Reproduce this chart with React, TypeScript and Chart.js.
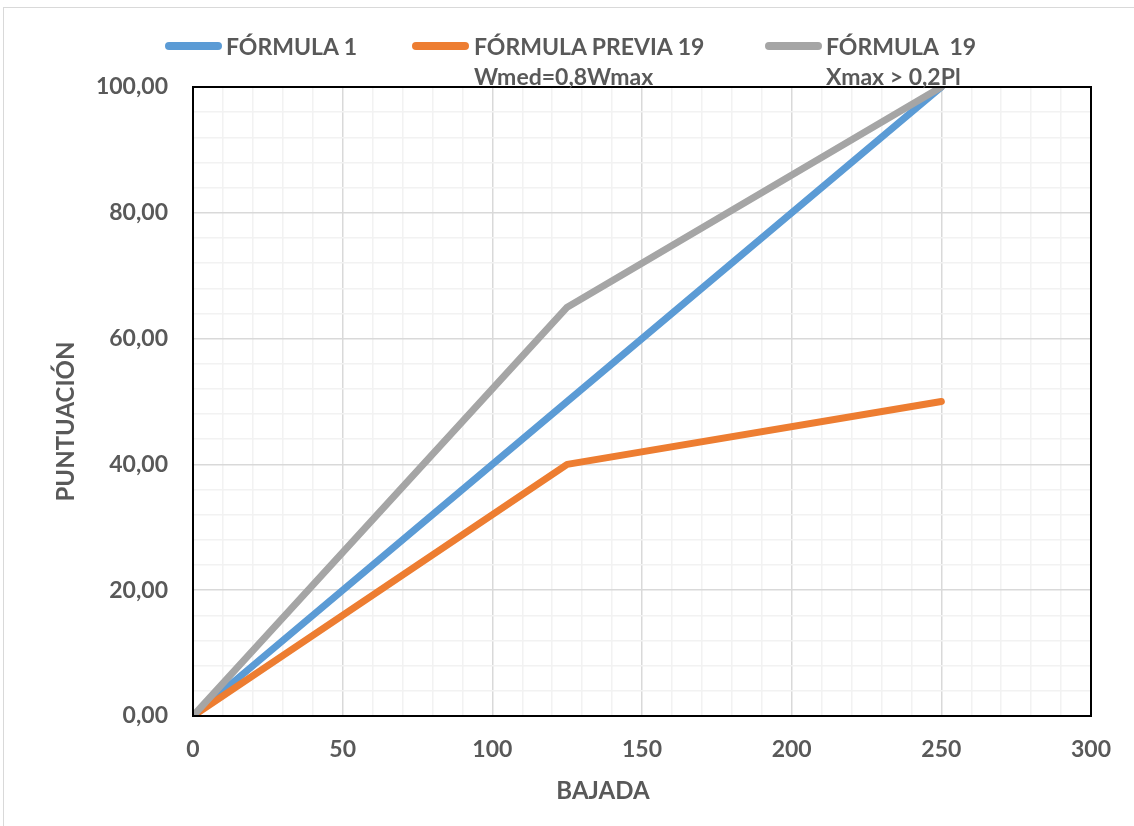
import React, { useEffect, useRef } from 'react';
import { Chart, registerables } from 'chart.js';

Chart.register(...registerables);

// ---- data ----
const bajada = [0, 125, 250];
const formula1 = [0, 50, 100];
const formulaPrevia19 = [0, 40, 50];
const formula19 = [0, 65, 100];

const seriesNames = [
  ['FÓRMULA 1'],
  ['FÓRMULA PREVIA 19', 'Wmed=0,8Wmax'],
  ['FÓRMULA  19', 'Xmax > 0,2Pl'],
];
const seriesColors = ['#5B9BD5', '#ED7D31', '#A5A5A5'];
const xMajorTicks = [0, 50, 100, 150, 200, 250, 300];
const yMajorTicks = [0, 20, 40, 60, 80, 100];
const xTitle = 'BAJADA';
const yTitle = 'PUNTUACIÓN';

const FONT = 'Lato, "Noto Sans", sans-serif';
const TEXT = '#595959';

const frameAndTitles = {
  id: 'frameAndTitles',
  afterDraw(chart: any) {
    const { ctx, chartArea } = chart;
    ctx.save();
    ctx.strokeStyle = '#000';
    ctx.lineWidth = 2;
    ctx.strokeRect(chartArea.left, chartArea.top, chartArea.right - chartArea.left, chartArea.bottom - chartArea.top);
    ctx.fillStyle = TEXT;
    ctx.font = `bold 24px ${FONT}`;
    ctx.textAlign = 'center';
    ctx.textBaseline = 'middle';
    ctx.fillText(xTitle, chartArea.left + 410, chartArea.bottom + 75);
    ctx.translate(chartArea.left - 127, (chartArea.top + chartArea.bottom) / 2 + 20);
    ctx.rotate(-Math.PI / 2);
    ctx.fillText(yTitle, 0, 0);
    ctx.restore();
  },
};

export default function App() {
  const ref = useRef<HTMLCanvasElement>(null);

  useEffect(() => {
    if (!ref.current) return;
    const series = [formula1, formulaPrevia19, formula19];
    const chart = new Chart(ref.current, {
      type: 'line',
      data: {
        datasets: series.map((s, i) => ({
          label: seriesNames[i].join(' '),
          data: bajada.map((x, j) => ({ x, y: s[j] })),
          borderColor: seriesColors[i],
          backgroundColor: seriesColors[i],
          borderWidth: 7,
          borderCapStyle: 'round',
          borderJoinStyle: 'round',
          pointRadius: 0,
          tension: 0,
          order: 3 - i,
        })),
      },
      options: {
        responsive: false,
        animation: false,
        layout: { padding: { top: 87, right: 43, left: 0, bottom: 0 } },
        plugins: { legend: { display: false }, tooltip: { enabled: false } },
        scales: {
          x: {
            type: 'linear',
            min: 0,
            max: 300,
            afterFit: (s: any) => { s.height = 110; },
            border: { display: false },
            grid: {
              drawTicks: false,
              lineWidth: 1.5,
              color: (c: any) => (xMajorTicks.includes(c.tick?.value) ? '#d9d9d9' : '#f2f2f2'),
            },
            ticks: {
              stepSize: 10,
              autoSkip: false,
              maxRotation: 0,
              padding: 20,
              color: TEXT,
              font: { family: FONT, size: 23, weight: 'bold' },
              callback: (v: any) => (xMajorTicks.includes(v) ? String(v) : ''),
            },
          },
          y: {
            type: 'linear',
            min: 0,
            max: 100,
            afterFit: (s: any) => { s.width = 193; },
            border: { display: false },
            grid: {
              drawTicks: false,
              lineWidth: 1.5,
              color: (c: any) => (yMajorTicks.includes(c.tick?.value) ? '#d9d9d9' : '#f2f2f2'),
            },
            ticks: {
              stepSize: 4,
              autoSkip: false,
              padding: 25,
              color: TEXT,
              font: { family: FONT, size: 23, weight: 'bold' },
              callback: (v: any) => (yMajorTicks.includes(v) ? Number(v).toFixed(2).replace('.', ',') : ''),
            },
          },
        },
      },
      plugins: [frameAndTitles],
    } as any);
    return () => chart.destroy();
  }, []);

  const legendPos = [
    { sw: 165, tx: 226 },
    { sw: 412, tx: 474 },
    { sw: 765, tx: 826 },
  ];

  return (
    <div style={{ position: 'fixed', left: 0, top: 0, width: 1134, height: 826, overflow: 'hidden', background: '#fff' }}>
      <div style={{ position: 'absolute', left: 3, top: 7, width: 1200, height: 900, border: '1px solid #d9d9d9' }} />
      <canvas ref={ref} width={1134} height={826} style={{ position: 'absolute', left: 0, top: 0 }} />
      {seriesNames.map((lines, i) => (
        <React.Fragment key={i}>
          <div
            style={{
              position: 'absolute',
              left: legendPos[i].sw,
              top: 42,
              width: 57,
              height: 8,
              borderRadius: 4,
              background: seriesColors[i],
            }}
          />
          <div
            style={{
              position: 'absolute',
              left: legendPos[i].tx,
              top: 31,
              font: `bold 23px ${FONT}`,
              lineHeight: '30px',
              color: TEXT,
              whiteSpace: 'pre',
            }}
          >
            {lines.map((l, k) => (
              <div key={k}>{l}</div>
            ))}
          </div>
        </React.Fragment>
      ))}
    </div>
  );
}
